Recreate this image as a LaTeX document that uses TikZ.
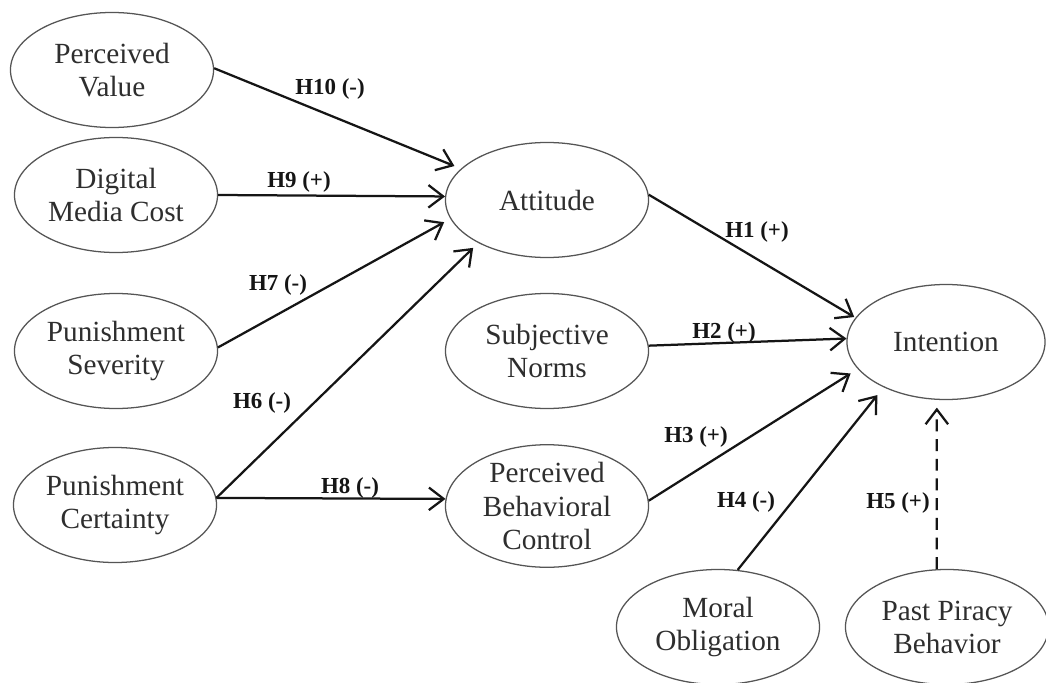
\documentclass[tikz,border=0pt]{standalone}
\usepackage{fontspec}
\setmainfont{Liberation Serif}
\usetikzlibrary{arrows.meta,shapes.geometric}
\definecolor{txt}{HTML}{2E2E2E}
\definecolor{edgec}{HTML}{555555}
\definecolor{linec}{HTML}{151515}
\begin{document}
\begin{tikzpicture}[x=0.025cm,y=-0.025cm,
  var/.style={ellipse, draw=edgec, line width=0.9pt, minimum width=5.075cm,
    minimum height=2.875cm, inner sep=0pt, align=center,
    font=\fontsize{20.8}{23.5}\selectfont, text=txt},
  link/.style={line width=1.6pt, draw=linec,
    -{Straight Barb[length=10.5pt,width=16pt]}},
  hyp/.style={font=\bfseries\fontsize{16.3}{19}\selectfont, text=linec, inner sep=1pt}]
\useasboundingbox[fill=white] (0,0) rectangle (1046,683);
% constructs
\node[var] (pv)  at (112,70)  {Perceived\\Value};
\node[var] (dmc) at (116,195) {Digital\\Media Cost};
\node[var] (ps)  at (116,351) {Punishment\\Severity};
\node[var] (pc)  at (115,505) {Punishment\\Certainty};
\node[var] (att) at (547,200) {Attitude};
\node[var] (sn)  at (547,351) {Subjective\\Norms};
\node[var] (pbc) at (547,506) {Perceived\\Behavioral\\Control};
\node[var, minimum width=4.95cm] (int) at (946,342) {Intention};
\node[var] (mo)  at (718,627) {Moral\\Obligation};
\node[var] (ppb) at (947,627) {Past Piracy\\Behavior};
% connectors
\draw[link, shorten >=5pt] (pv.1)   -- (att.160.5);
\draw[link]                (dmc.0)  -- (att.178);
\draw[link, shorten >=5pt] (ps.2)   -- (att.191);
\draw[link, shorten >=5pt] (pc.4)   -- (att.212.7);
\draw[link]                (pc.4)   -- (pbc.176);
\draw[link, shorten >=1pt] (att.3)  -- (int.165.4);
\draw[link]                (sn.3.4) -- (int.178);
\draw[link, shorten >=6pt] (pbc.3.4) -- (int.197.9);
\draw[link, shorten >=7pt] (mo.71.6) -- (int.216.9);
\draw[link, shorten >=5.5pt, dash pattern=on 8.5pt off 5.5pt] (ppb.100.7) -- (int.261);
% hypothesis labels
\node[hyp] (h10) at (330,89)  {H10 (-)};
\node[hyp] (h9)  at (299,182) {H9 (+)};
\node[hyp] (h7)  at (278,285) {H7 (-)};
\node[hyp] (h6)  at (262,403) {H6 (-)};
\node[hyp] (h8)  at (350,488) {H8 (-)};
\node[hyp] (h1)  at (757,232) {H1 (+)};
\node[hyp] (h2)  at (724,333) {H2 (+)};
\node[hyp] (h3)  at (696,437) {H3 (+)};
\node[hyp] (h4)  at (746,502) {H4 (-)};
\node[hyp] (h5)  at (898,503) {H5 (+)};
\end{tikzpicture}
\end{document}
